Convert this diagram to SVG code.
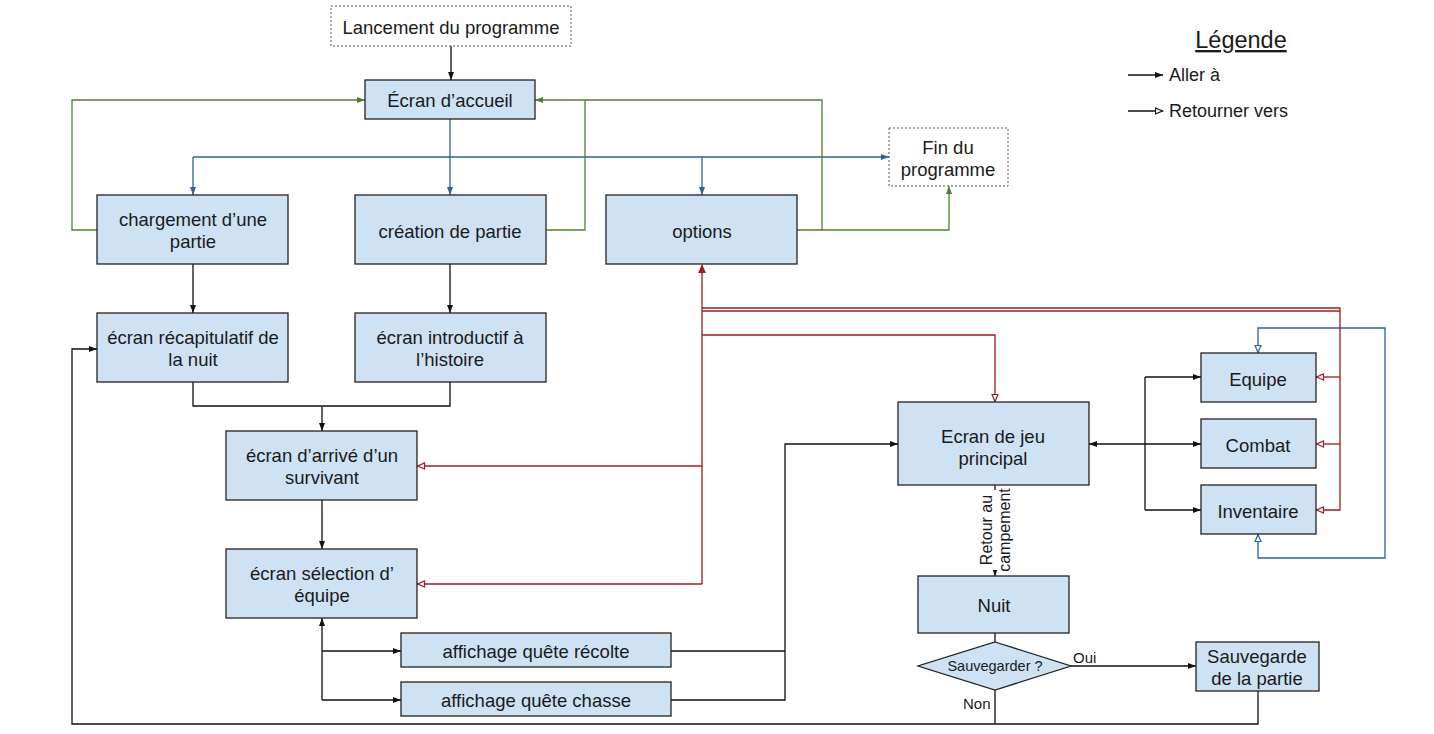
<svg xmlns="http://www.w3.org/2000/svg" width="1434" height="734" viewBox="0 0 1434 734">
<style>
text{font-family:"Liberation Sans",Arial,sans-serif;fill:#1a1a1a;}
.n{font-size:18.5px;text-anchor:middle;dominant-baseline:central;}
.s{font-size:15px;}
.box{fill:#cfe2f3;stroke:#222;stroke-width:1.3;}
.dot{fill:#fff;stroke:#555;stroke-width:1;stroke-dasharray:2,2;}
.c{fill:none;stroke-width:1.3;}
.k{stroke:#111;}
.b{stroke:#2f619b;}
.g{stroke:#4f7f35;}
.r{stroke:#a01c1c;}
</style>
<defs>
<marker id="ak" markerUnits="userSpaceOnUse" markerWidth="9" markerHeight="8" refX="8" refY="3.5" orient="auto-start-reverse"><path d="M0,0.5 L8,3.5 L0,6.5 z" fill="#111"/></marker>
<marker id="ab" markerUnits="userSpaceOnUse" markerWidth="9" markerHeight="8" refX="8" refY="3.5" orient="auto-start-reverse"><path d="M0,0.5 L8,3.5 L0,6.5 z" fill="#2f619b"/></marker>
<marker id="ag" markerUnits="userSpaceOnUse" markerWidth="9" markerHeight="8" refX="8" refY="3.5" orient="auto-start-reverse"><path d="M0,0.5 L8,3.5 L0,6.5 z" fill="#4f7f35"/></marker>
<marker id="or" markerUnits="userSpaceOnUse" markerWidth="10" markerHeight="9" refX="8.5" refY="4" orient="auto-start-reverse"><path d="M1,1 L8,4 L1,7 z" fill="#fff" stroke="#a01c1c" stroke-width="1.2"/></marker>
<marker id="orf" markerUnits="userSpaceOnUse" markerWidth="10" markerHeight="9" refX="8.5" refY="4" orient="auto-start-reverse"><path d="M1,1 L8,4 L1,7 z" fill="#a01c1c" stroke="#a01c1c" stroke-width="1.2"/></marker>
<marker id="ob" markerUnits="userSpaceOnUse" markerWidth="10" markerHeight="9" refX="8.5" refY="4" orient="auto-start-reverse"><path d="M1,1 L8,4 L1,7 z" fill="#fff" stroke="#2f619b" stroke-width="1.2"/></marker>
<marker id="ok" markerUnits="userSpaceOnUse" markerWidth="10" markerHeight="9" refX="8.5" refY="4" orient="auto-start-reverse"><path d="M1,1 L8,4 L1,7 z" fill="#fff" stroke="#111" stroke-width="1.2"/></marker>
</defs>
<rect width="1434" height="734" fill="#fff"/>

<g id="connectors">
<!-- black -->
<path class="c k" d="M451,46 V80" marker-end="url(#ak)"/>
<path class="c k" d="M193,264 V313" marker-end="url(#ak)"/>
<path class="c k" d="M450,264 V313" marker-end="url(#ak)"/>
<path class="c k" d="M193,382 V406 H450 V382"/>
<path class="c k" d="M322,406 V431" marker-end="url(#ak)"/>
<path class="c k" d="M322,500 V549" marker-end="url(#ak)"/>
<path class="c k" d="M322,700 V618" marker-end="url(#ak)"/>
<path class="c k" d="M322,651 H401" marker-end="url(#ak)"/>
<path class="c k" d="M322,700 H401" marker-end="url(#ak)"/>
<path class="c k" d="M671,651 H785"/>
<path class="c k" d="M671,700 H785 V444 H898" marker-end="url(#ak)"/>
<path class="c k" d="M1089,444 H1201" marker-start="url(#ak)" marker-end="url(#ak)"/>
<path class="c k" d="M1145,377 V510"/>
<path class="c k" d="M1145,377 H1201" marker-end="url(#ak)"/>
<path class="c k" d="M1145,510 H1201" marker-end="url(#ak)"/>
<path class="c k" d="M995,485 V576" marker-end="url(#ak)"/>
<path class="c k" d="M995,633 V642"/>
<path class="c k" d="M1071,666 H1196" marker-end="url(#ak)"/>
<path class="c k" d="M995,690 V724"/>
<path class="c k" d="M1258,691 V724 H72 V349 H97" marker-end="url(#ak)"/>
<!-- blue -->
<path class="c b" d="M450,119 V195" marker-end="url(#ab)"/>
<path class="c b" d="M193,157 H889" marker-end="url(#ab)"/>
<path class="c b" d="M193,157 V195" marker-end="url(#ab)"/>
<path class="c b" d="M702,157 V195" marker-end="url(#ab)"/>
<path class="c b" d="M1258,534 V558 H1385 V328 H1258 V353" marker-start="url(#ob)" marker-end="url(#ob)"/>
<!-- green -->
<path class="c g" d="M97,230 H72 V100 H365" marker-end="url(#ag)"/>
<path class="c g" d="M546,230 H585 V100 H535" marker-end="url(#ag)"/>
<path class="c g" d="M797,230 H822 V100 H585"/>
<path class="c g" d="M822,230 H949 V186" marker-end="url(#ag)"/>
<!-- red -->
<path class="c r" d="M702,584 V265" marker-end="url(#orf)"/>
<path class="c r" d="M702,466 H417" marker-end="url(#or)"/>
<path class="c r" d="M702,584 H417" marker-end="url(#or)"/>
<path class="c r" d="M702,308 H1340 V510 H1316" marker-end="url(#or)"/>
<path class="c r" d="M702,311 H1340"/>
<path class="c r" d="M1340,377 H1316" marker-end="url(#or)"/>
<path class="c r" d="M1340,444 H1316" marker-end="url(#or)"/>
<path class="c r" d="M702,335 H995 V402" marker-end="url(#or)"/>
<!-- labels -->
<rect x="975" y="490" width="38" height="80" fill="#fff"/>
<g transform="translate(995,530) rotate(-90)">
<text x="0" y="-9" font-size="16" text-anchor="middle" dominant-baseline="central">Retour au</text>
<text x="0" y="9" font-size="16" text-anchor="middle" dominant-baseline="central">campement</text>
</g>
<text class="s" x="1073" y="657" dominant-baseline="central">Oui</text>
<text class="s" x="963" y="703" dominant-baseline="central">Non</text>
</g>

<g id="lancement"><rect class="dot" x="331" y="6" width="240" height="40"/><text class="n" x="451" y="27">Lancement du programme</text></g>
<g id="accueil"><rect class="box" x="365" y="80" width="170" height="39"/><text class="n" x="450" y="100">Écran d’accueil</text></g>
<g id="chargement"><rect class="box" x="97" y="195" width="191" height="69"/><text class="n" x="193" y="219">chargement d’une</text><text class="n" x="193" y="241">partie</text></g>
<g id="creation"><rect class="box" x="355" y="195" width="191" height="69"/><text class="n" x="450" y="231">création de partie</text></g>
<g id="options"><rect class="box" x="606" y="195" width="191" height="69"/><text class="n" x="702" y="231">options</text></g>
<g id="fin"><rect class="dot" x="889" y="128" width="119" height="58"/><text class="n" x="948" y="147">Fin du</text><text class="n" x="948" y="169">programme</text></g>
<g id="recap"><rect class="box" x="97" y="313" width="191" height="69"/><text class="n" x="193" y="337">écran récapitulatif de</text><text class="n" x="193" y="359">la nuit</text></g>
<g id="intro"><rect class="box" x="355" y="313" width="191" height="69"/><text class="n" x="450" y="337">écran introductif à</text><text class="n" x="450" y="359">l’histoire</text></g>
<g id="arrive"><rect class="box" x="226" y="431" width="191" height="69"/><text class="n" x="322" y="455">écran d’arrivé d’un</text><text class="n" x="322" y="477">survivant</text></g>
<g id="selection"><rect class="box" x="226" y="549" width="191" height="69"/><text class="n" x="322" y="573">écran sélection d’</text><text class="n" x="322" y="595">équipe</text></g>
<g id="recolte"><rect class="box" x="401" y="633" width="270" height="34"/><text class="n" x="536" y="651">affichage quête récolte</text></g>
<g id="chasse"><rect class="box" x="401" y="682" width="270" height="34"/><text class="n" x="536" y="700">affichage quête chasse</text></g>
<g id="jeu"><rect class="box" x="898" y="402" width="191" height="83"/><text class="n" x="993" y="436">Ecran de jeu</text><text class="n" x="993" y="458">principal</text></g>
<g id="equipe"><rect class="box" x="1201" y="353" width="115" height="49"/><text class="n" x="1258" y="379">Equipe</text></g>
<g id="combat"><rect class="box" x="1201" y="419" width="115" height="49"/><text class="n" x="1258" y="445">Combat</text></g>
<g id="inventaire"><rect class="box" x="1201" y="485" width="115" height="49"/><text class="n" x="1258" y="511">Inventaire</text></g>
<g id="nuit"><rect class="box" x="918" y="576" width="151" height="57"/><text class="n" x="994" y="605">Nuit</text></g>
<g id="sauvegarder"><polygon class="box" points="995,642 1071,666 995,690 918,666"/><text x="995" y="666" font-size="14.5" text-anchor="middle" dominant-baseline="central">Sauvegarder ?</text></g>
<g id="sauvegarde"><rect class="box" x="1196" y="642" width="123" height="49"/><text class="n" x="1257" y="656">Sauvegarde</text><text class="n" x="1257" y="678">de la partie</text></g>

<g id="legende">
<text x="1241" y="48" font-size="23.5" text-anchor="middle" text-decoration="underline">Légende</text>
<path class="c k" d="M1128,75 H1163" marker-end="url(#ak)"/>
<text x="1169" y="75" font-size="18" dominant-baseline="central">Aller à</text>
<path class="c k" d="M1128,111 H1163" marker-end="url(#ok)"/>
<text x="1169" y="111" font-size="18" dominant-baseline="central">Retourner vers</text>
</g>
</svg>
